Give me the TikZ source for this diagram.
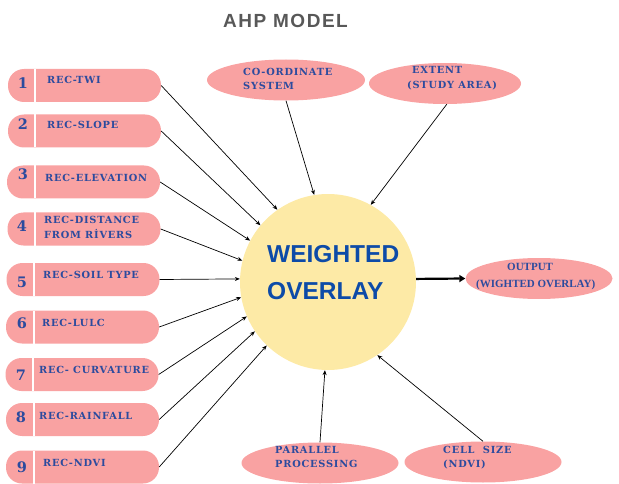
\documentclass[tikz,border=0pt]{standalone}
\usepackage{fontspec}
\setmainfont{Liberation Serif}
\newfontfamily\boxfont[LetterSpace=8]{DejaVu Serif}
\newfontfamily\outfont{Liberation Serif}
\newfontfamily\bigsans{Liberation Sans}
\newfontfamily\titlefont[LetterSpace=8]{Liberation Sans}
\usetikzlibrary{arrows.meta,shapes.geometric}
\definecolor{boxpink}{HTML}{F9A2A2}
\definecolor{circyel}{HTML}{FDEAA6}
\definecolor{txtblue}{HTML}{2C4B9E}
\definecolor{cenblue}{HTML}{0D4BA8}
\definecolor{titlegray}{HTML}{585858}
\tikzset{
  recbox/.style={fill=boxpink, draw=none, rounded corners=16pt, minimum width=153pt, minimum height=33pt, inner sep=0pt},
  ellbox/.style={ellipse, fill=boxpink, draw=none, minimum width=#1, minimum height=41pt, inner sep=0pt},
  numtxt/.style={anchor=base, text=txtblue, font=\boxfont\bfseries\fontsize{14.5}{14.5}\selectfont, inner sep=0pt},
  boxtxt/.style={anchor=base west, text=txtblue, font=\boxfont\bfseries\fontsize{9.8}{9.8}\selectfont, inner sep=0pt},
  outtxt/.style={anchor=base west, text=txtblue, font=\outfont\bfseries\fontsize{11}{11}\selectfont, inner sep=0pt},
  divline/.style={white, line width=1.4pt},
  arr/.style={-{Stealth[length=5pt,width=4pt]}, line width=0.7pt, black},
  bigarr/.style={-{Triangle[length=6pt,width=7pt]}, line width=2.2pt, black},
}
\begin{document}
\begin{tikzpicture}[x=1pt,y=-1pt]
\useasboundingbox (0,0) rectangle (619,484);
% title
\node[anchor=base west, text=titlegray, font=\titlefont\bfseries\fontsize{19}{19}\selectfont, inner sep=0pt] (title) at (223,28) {AHP MODEL};
% centre circle
\node[circle, fill=circyel, minimum size=176pt, inner sep=0pt] (c) at (328,282) {};
\node[anchor=base west, text=cenblue, font=\bigsans\bfseries\fontsize{24.5}{24.5}\selectfont, inner sep=0pt] (w1) at (267,262) {WEIGHTED};
\node[anchor=base west, text=cenblue, font=\bigsans\bfseries\fontsize{24.5}{24.5}\selectfont, inner sep=0pt] (w2) at (267,299) {OVERLAY};
% left boxes
\node[recbox] (b1) at (84.5,85.5) {};
\node[recbox] (b2) at (84.5,131) {};
\node[recbox] (b3) at (83.5,182) {};
\node[recbox] (b4) at (84,229) {};
\node[recbox] (b5) at (83,279.5) {};
\node[recbox] (b6) at (82.5,327) {};
\node[recbox] (b7) at (82,374.5) {};
\node[recbox] (b8) at (82.5,419.5) {};
\node[recbox] (b9) at (82.5,467) {};
\foreach \x/\y in {35/85.5,35/131,35/182,35/229,34/279.5,34/327,33/374.5,34/419.5,34/467}{
  \draw[divline] (\x,\y-16.5) -- (\x,\y+16.5);
}
\node[numtxt] (n1) at (23,89) {1};
\node[numtxt] (n2) at (23,130) {2};
\node[numtxt] (n3) at (23,180) {3};
\node[numtxt] (n4) at (22,231) {4};
\node[numtxt] (n5) at (22,287) {5};
\node[numtxt] (n6) at (22,328) {6};
\node[numtxt] (n7) at (21,380) {7};
\node[numtxt] (n8) at (21,422) {8};
\node[numtxt] (n9) at (22,472) {9};
\node[boxtxt] (t1) at (47,84) {REC-TWI};
\node[boxtxt] (t2) at (47,129) {REC-SLOPE};
\node[boxtxt] (t3) at (45,182) {REC-ELEVATION};
\node[boxtxt] (t4a) at (44,224) {REC-DISTANCE};
\node[boxtxt] (t4b) at (44,238) {FROM RİVERS};
\node[boxtxt] (t5) at (43,278) {REC-SOIL TYPE};
\node[boxtxt] (t6) at (42,326) {REC-LULC};
\node[boxtxt] (t7) at (39,373) {REC- CURVATURE};
\node[boxtxt] (t8) at (39,419) {REC-RAINFALL};
\node[boxtxt] (t9) at (43,466) {REC-NDVI};
% ellipses
\node[ellbox=158pt] (e1) at (286,80) {};
\node[ellbox=152pt] (e2) at (445,83.5) {};
\node[ellbox=157pt] (e3) at (320,463) {};
\node[ellbox=157pt] (e4) at (483,462) {};
\node[ellbox=147pt] (e5) at (539,278.5) {};
\node[boxtxt] (t10a) at (243,76) {CO-ORDINATE};
\node[boxtxt] (t10b) at (243,90) {SYSTEM};
\node[boxtxt] (t11a) at (412,74) {EXTENT};
\node[boxtxt] (t11b) at (407,89) {(STUDY AREA)};
\node[boxtxt] (t12a) at (275,453) {PARALLEL};
\node[boxtxt] (t12b) at (275,467) {PROCESSING};
\node[boxtxt] (t13a) at (443,453) {CELL\ \ SIZE};
\node[boxtxt] (t13b) at (443,467) {(NDVI)};
\node[outtxt] (t14a) at (507,270) {OUTPUT};
\node[outtxt] (t14b) at (476,287) {(WIGHTED OVERLAY)};
% connectors
\draw[arr] (b1.east) -- (c.125);
\draw[arr] (b2.east) -- (c.140);
\draw[arr] (b3.east) -- (c.152);
\draw[arr] (b4.east) -- (c.166);
\draw[arr] (b5.east) -- (c.178);
\draw[arr] (b6.east) -- (c.190);
\draw[arr] (b7.east) -- (c.203);
\draw[arr] (b8.east) -- (c.214);
\draw[arr] (b9.east) -- (c.226);
\draw[arr] (e1.south) -- (c.99);
\draw[arr] (e2.-85) -- (c.61);
\draw[arr] (e3.north) -- (c.268);
\draw[arr] (e4.north) -- (c.304);
\draw[bigarr] (c.2) -- (e5.west);
\end{tikzpicture}
\end{document}
